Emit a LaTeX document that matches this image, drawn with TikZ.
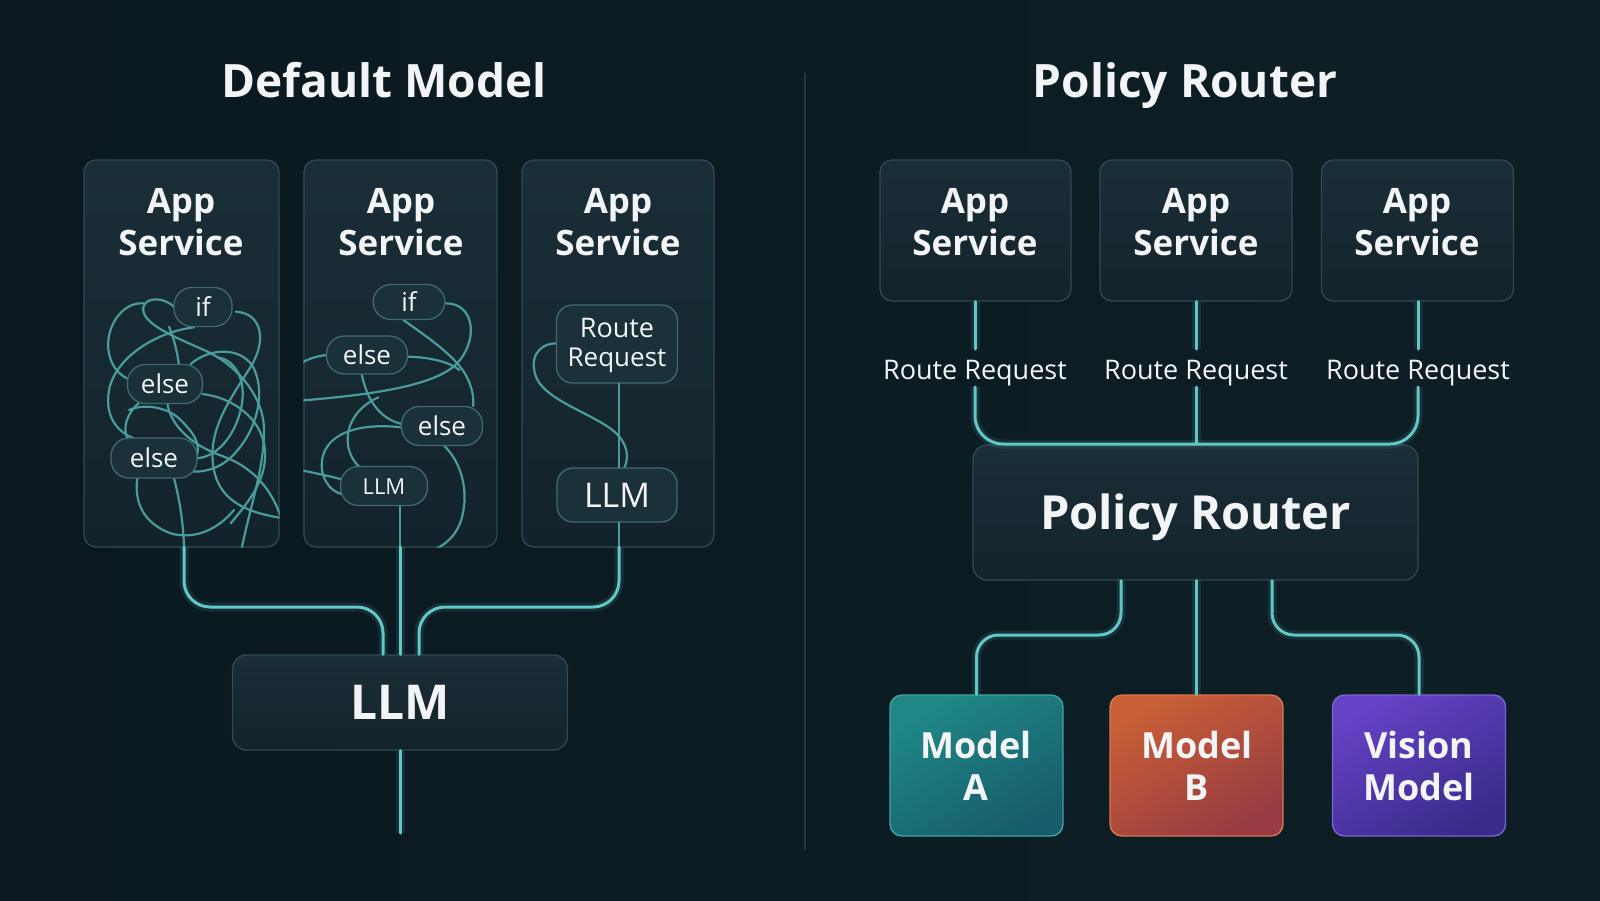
\documentclass[tikz,border=0pt]{standalone}
\usepackage{fontspec}
\setmainfont{Open Sans}
\usetikzlibrary{calc}
\definecolor{bgl}{HTML}{0B1820}
\definecolor{bgr}{HTML}{0D1F25}
\definecolor{panelt}{HTML}{1A2E37}
\definecolor{panelb}{HTML}{13232B}
\definecolor{panelbd}{HTML}{2E4B53}
\definecolor{pillf}{HTML}{1B313A}
\definecolor{pillbd}{HTML}{3F6B6E}
\definecolor{tanglec}{HTML}{4A9C9C}
\definecolor{connc}{HTML}{62C8C6}
\definecolor{divc}{HTML}{23373F}
\definecolor{txtc}{HTML}{F2F4F5}
\definecolor{aTL}{HTML}{1F8886}
\definecolor{aBR}{HTML}{175C6C}
\definecolor{aBD}{HTML}{3FA5A0}
\definecolor{bTL}{HTML}{C85F36}
\definecolor{bBR}{HTML}{983B42}
\definecolor{bBD}{HTML}{D9774F}
\definecolor{vTL}{HTML}{6542C6}
\definecolor{vBR}{HTML}{3A2B8A}
\definecolor{vBD}{HTML}{7B62D6}
\begin{document}
\begin{tikzpicture}[x=1pt,y=-1pt,
  panel/.style={draw=panelbd, line width=1.3pt, rounded corners=12pt, top color=panelt, bottom color=panelb, inner sep=0pt},
  pill/.style={draw=pillbd, line width=1.3pt, fill=pillf, rounded corners=18pt, inner sep=0pt, text=txtc,
    text height=19pt, text depth=0pt, font=\fontsize{26}{30}\selectfont},
  modelbox/.style={line width=1.4pt, rounded corners=12pt, inner sep=0pt, minimum width=173pt, minimum height=141pt},
  tangle/.style={draw=tanglec, line width=2.2pt, line cap=round},
  conn/.style={draw=connc, line width=3pt, line cap=round, rounded corners=26pt,
    preaction={draw=connc, line width=9pt, opacity=0.12}},
  titletxt/.style={text=txtc, inner sep=0pt, anchor=base, font=\fontsize{46}{54}\selectfont\bfseries},
  apptxt/.style={text=txtc, inner sep=0pt, anchor=base, font=\fontsize{35}{42}\selectfont\bfseries},
  rrtxt/.style={text=txtc, inner sep=0pt, anchor=base, font=\fontsize{27}{32}\selectfont},
  bigtxt/.style={text=txtc, text height=34pt, text depth=0pt, font=\fontsize{48}{56}\selectfont\bfseries},
  modeltxt/.style={text=txtc, inner sep=0pt, anchor=base, font=\fontsize{36}{43}\selectfont\bfseries}
]
\shade[left color=bgl, right color=bgr] (0,0) rectangle (1600,900);
\useasboundingbox (0,0) rectangle (1600,900);

% titles and divider
\node[titletxt] (tL) at (384,97) {Default Model};
\node[titletxt] (tR) at (1185,97) {Policy Router};
\coordinate (dvt) at (805,73);
\coordinate (dvb) at (805,850);
\draw[divc, line width=1.3pt] (dvt) -- (dvb);

% ---------- left: panels ----------
\node[panel, minimum width=195pt, minimum height=387pt] (p1) at (181.5,353.5) {};
\node[panel, minimum width=193pt, minimum height=387pt] (p2) at (400.5,353.5) {};
\node[panel, minimum width=192pt, minimum height=387pt] (p3) at (618,353.5) {};
\foreach \px/\nm in {181/a, 401/b, 618/c}{
  \node[apptxt] (app\nm) at (\px,213) {App};
  \node[apptxt] (srv\nm) at (\px,255) {Service};
}

% panel 1 tangle
\begin{scope}
\clip[rounded corners=12pt] (p1.south west) rectangle (p1.north east);
\begin{scope}[shift={(84,270)}, scale=1/3]
\draw[tangle] (455,125) .. controls (540,130) and (545,220) .. (500,290) .. controls (445,380) and (365,480) .. (390,600) .. controls (410,700) and (500,730) .. (600,745);
\draw[tangle] (272,112) .. controls (240,80) and (185,80) .. (178,112) .. controls (170,160) and (270,200) .. (360,240) .. controls (460,285) and (540,380) .. (540,480) .. controls (540,600) and (500,700) .. (470,850);
\draw[tangle] (178,100) .. controls (110,95) and (60,180) .. (75,250) .. controls (85,300) and (115,320) .. (140,330);
\draw[tangle] (330,172) .. controls (220,185) and (95,260) .. (75,360) .. controls (60,450) and (110,490) .. (150,505);
\draw[tangle] (255,170) .. controls (272,210) and (280,250) .. (285,285);
\draw[tangle] (320,282) .. controls (380,230) and (480,230) .. (512,300) .. controls (560,420) and (470,560) .. (400,590) .. controls (330,620) and (285,600) .. (300,570);
\draw[tangle] (355,372) .. controls (430,380) and (520,430) .. (540,520) .. controls (560,620) and (490,700) .. (440,760);
\draw[tangle] (250,400) .. controls (260,470) and (330,530) .. (420,560) .. controls (500,590) and (560,650) .. (590,740);
\draw[tangle] (165,398) .. controls (130,430) and (115,470) .. (130,505);
\draw[tangle] (338,565) .. controls (400,560) and (450,500) .. (470,420) .. controls (490,340) and (460,270) .. (400,262);
\draw[tangle] (160,625) .. controls (150,700) and (180,760) .. (260,790) .. controls (330,810) and (400,780) .. (450,720);
\draw[tangle] (270,625) .. controls (290,700) and (300,780) .. (300,845);
\draw[tangle] (135,420) .. controls (180,400) and (250,410) .. (290,450) .. controls (330,490) and (350,520) .. (338,560);
\end{scope}
\end{scope}

% panel 2 tangle
\begin{scope}
\clip[rounded corners=12pt] (p2.south west) rectangle (p2.north east);
\begin{scope}[shift={(300,270)}, scale=1/3]
\draw[tangle] (438,100) .. controls (520,100) and (535,200) .. (480,270) .. controls (420,350) and (200,375) .. (0,392);
\draw[tangle] (310,150) .. controls (380,200) and (470,260) .. (500,320) .. controls (520,360) and (520,385) .. (520,408);
\draw[tangle] (80,255) .. controls (50,258) and (20,268) .. (0,282);
\draw[tangle] (325,260) .. controls (400,262) and (455,280) .. (478,300);
\draw[tangle] (185,312) .. controls (200,385) and (235,445) .. (305,462);
\draw[tangle] (305,472) .. controls (200,460) and (90,478) .. (68,560) .. controls (55,620) and (90,665) .. (125,672);
\draw[tangle] (235,382) .. controls (150,420) and (125,500) .. (155,560) .. controls (165,578) and (172,585) .. (178,590);
\draw[tangle] (0,600) .. controls (50,610) and (95,620) .. (125,628);
\draw[tangle] (430,525) .. controls (490,580) and (510,680) .. (480,760) .. controls (460,810) and (420,835) .. (385,845);
\end{scope}
\end{scope}

% panel 3 tangle
\begin{scope}
\clip[rounded corners=12pt] (p3.south west) rectangle (p3.north east);
\begin{scope}[shift={(520,290)}, scale=1/3]
\draw[tangle] (110,160) .. controls (55,160) and (25,205) .. (50,265) .. controls (85,340) and (250,380) .. (298,440) .. controls (330,480) and (322,515) .. (312,535);
\end{scope}
\end{scope}

% pills
\node[pill, minimum width=58pt, minimum height=39pt] (if1) at (203,307) {if};
\node[pill, minimum width=75pt, minimum height=39pt] (el1) at (165,384) {else};
\node[pill, minimum width=86pt, minimum height=40pt] (el2) at (154,458) {else};
\node[pill, minimum width=72pt, minimum height=35pt] (if2) at (409,302) {if};
\node[pill, minimum width=81pt, minimum height=38pt] (el3) at (367,355) {else};
\node[pill, minimum width=81pt, minimum height=39pt] (el4) at (442,426) {else};
\node[pill, minimum width=87pt, minimum height=39pt, text height=16pt, font=\fontsize{22}{26}\selectfont] (sl2) at (384,486) {LLM};
\node[pill, minimum width=121pt, minimum height=78pt, rounded corners=16pt] (rr3) at (617,344) {};
\node[rrtxt, font=\fontsize{27}{32}\selectfont] (rr3a) at (617,337) {Route};
\node[rrtxt, font=\fontsize{26}{30}\selectfont] (rr3b) at (617,366) {Request};
\node[pill, minimum width=120pt, minimum height=54pt, rounded corners=16pt, text height=24pt, font=\fontsize{34}{40}\selectfont] (sl3) at (617,495) {LLM};

% big LLM
\node[panel, minimum width=335pt, minimum height=95pt, rounded corners=14pt, bigtxt] (llm) at (400,702.5) {LLM};

% left connectors
\coordinate (c1) at (184,547);
\coordinate (c2) at (400,547);
\coordinate (c3) at (619,547);
\coordinate (j1) at (383,607);
\coordinate (j3) at (419,607);
\coordinate (e1) at (400,833);
\draw[tangle] (sl2.south -| c2) -- (c2);
\draw[tangle] (rr3.south -| c3) -- (sl3.north -| c3);
\draw[tangle] (sl3.south -| c3) -- (c3);
\draw[conn] (c1) |- (j1) -- (j1 |- llm.north);
\draw[conn] (c2) -- (c2 |- llm.north);
\draw[conn] (c3) |- (j3) -- (j3 |- llm.north);
\draw[conn] (llm.south) -- (e1);

% ---------- right ----------
\node[panel, minimum width=191pt, minimum height=141pt] (a1) at (975.5,230.5) {};
\node[panel, minimum width=192pt, minimum height=141pt] (a2) at (1196,230.5) {};
\node[panel, minimum width=192pt, minimum height=141pt] (a3) at (1417.5,230.5) {};
\foreach \px/\nm in {975/d, 1196/e, 1417/f}{
  \node[apptxt] (app\nm) at (\px,213) {App};
  \node[apptxt] (srv\nm) at (\px,255) {Service};
}
\node[rrtxt] (r1) at (975,379) {Route Request};
\node[rrtxt] (r2) at (1196,379) {Route Request};
\node[rrtxt] (r3) at (1418,379) {Route Request};

\node[panel, minimum width=445pt, minimum height=135pt, rounded corners=14pt, bigtxt, font=\fontsize{47}{56}\selectfont\bfseries] (router) at (1195.5,512.5) {Policy Router};

\node[modelbox, draw=aBD, top color=aTL, bottom color=aBR, shading angle=30] (mA) at (976.5,765.5) {};
\node[modelbox, draw=bBD, top color=bTL, bottom color=bBR, shading angle=30] (mB) at (1196.5,765.5) {};
\node[modelbox, draw=vBD, top color=vTL, bottom color=vBR, shading angle=30] (mV) at (1419,765.5) {};
\node[modeltxt] (mAa) at (976,758) {Model};
\node[modeltxt] (mAb) at (976,800) {A};
\node[modeltxt] (mBa) at (1197,758) {Model};
\node[modeltxt] (mBb) at (1197,800) {B};
\node[modeltxt] (mVa) at (1419,758) {Vision};
\node[modeltxt] (mVb) at (1419,800) {Model};

% right connectors
\coordinate (r1t) at (975,349);
\coordinate (r2t) at (1196,349);
\coordinate (r3t) at (1418,349);
\coordinate (r1b) at (975,387);
\coordinate (r2b) at (1196,387);
\coordinate (r3b) at (1418,387);
\coordinate (rt) at (1196,444);
\draw[conn] (a1.south -| r1t) -- (r1t);
\draw[conn] (a2.south -| r2t) -- (r2t);
\draw[conn] (a3.south -| r3t) -- (r3t);
\draw[conn, rounded corners=28pt] (r1b) |- (rt) -| (r3b);
\draw[conn] (r2b) -- (rt);

\coordinate (k1) at (1121,635);
\coordinate (k3) at (1272,635);
\draw[conn, rounded corners=22pt] (router.south -| k1) -- (k1) -| (mA.north);
\draw[conn] (router.south -| mB.north) -- (mB.north);
\draw[conn, rounded corners=22pt] (router.south -| k3) -- (k3) -| (mV.north);
\end{tikzpicture}
\end{document}
